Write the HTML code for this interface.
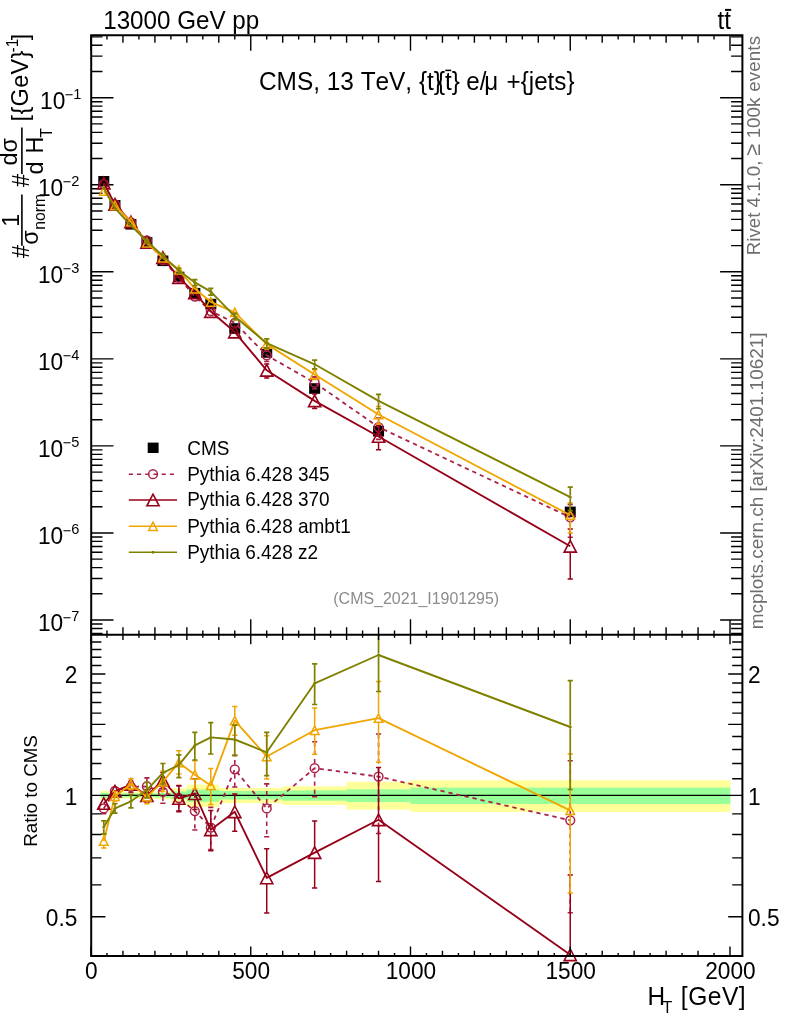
<!DOCTYPE html>
<html><head><meta charset="utf-8"><title>plot</title><style>html,body{margin:0;padding:0;background:#fff}svg{display:block;will-change:transform}text{font-kerning:none}</style></head><body>
<svg width="786" height="1024" viewBox="0 0 786 1024" font-family="'Liberation Sans', sans-serif">
<rect width="786" height="1024" fill="#fff"/>
<rect x="100.59" y="790.7" width="6.69" height="9" fill="#ffff99"/>
<rect x="106.97" y="791.6" width="16.28" height="7.2" fill="#ffff99"/>
<rect x="122.95" y="792.2" width="16.28" height="6.2" fill="#ffff99"/>
<rect x="138.93" y="792.2" width="16.27" height="6.2" fill="#ffff99"/>
<rect x="154.9" y="791.5" width="16.27" height="7.7" fill="#ffff99"/>
<rect x="170.88" y="788.4" width="16.28" height="14.3" fill="#ffff99"/>
<rect x="186.85" y="784.6" width="16.27" height="22.4" fill="#ffff99"/>
<rect x="202.82" y="784.6" width="16.28" height="22.4" fill="#ffff99"/>
<rect x="218.8" y="788" width="32.25" height="15.2" fill="#ffff99"/>
<rect x="250.75" y="788" width="32.25" height="15.2" fill="#ffff99"/>
<rect x="282.7" y="786.3" width="64.2" height="18.7" fill="#ffff99"/>
<rect x="346.6" y="781.8" width="64.2" height="27.8" fill="#ffff99"/>
<rect x="410.5" y="780.3" width="319.8" height="31.6" fill="#ffff99"/>
<rect x="100.59" y="792.7" width="6.69" height="5.2" fill="#99ff99"/>
<rect x="106.97" y="793.2" width="16.28" height="4.2" fill="#99ff99"/>
<rect x="122.95" y="793.4" width="16.28" height="3.8" fill="#99ff99"/>
<rect x="138.93" y="793.4" width="16.27" height="3.8" fill="#99ff99"/>
<rect x="154.9" y="793.2" width="16.27" height="4.3" fill="#99ff99"/>
<rect x="170.88" y="791.4" width="16.28" height="7.8" fill="#99ff99"/>
<rect x="186.85" y="789.5" width="16.27" height="12.2" fill="#99ff99"/>
<rect x="202.82" y="789.5" width="16.28" height="12.2" fill="#99ff99"/>
<rect x="218.8" y="791" width="32.25" height="8.5" fill="#99ff99"/>
<rect x="250.75" y="791" width="32.25" height="8.5" fill="#99ff99"/>
<rect x="282.7" y="790.4" width="64.2" height="10.3" fill="#99ff99"/>
<rect x="346.6" y="789.3" width="64.2" height="12.8" fill="#99ff99"/>
<rect x="410.5" y="787.6" width="319.8" height="16.3" fill="#99ff99"/>
<g id="lower">
<line x1="91.2" y1="795.4" x2="742.4" y2="795.4" stroke="#000" stroke-width="1.3"/>
<polyline points="103.78,808.4 114.96,791 130.94,786.8 146.91,786.5 162.89,791.8 178.86,798 194.84,811.1 210.81,827.6 234.78,769.4 266.73,808.4 314.65,768.2 378.55,776.6 570.25,820.3" fill="none" stroke="#ab2249" stroke-width="1.8" stroke-linejoin="round" stroke-dasharray="4.3 3.9"/>
<path d="M103.78 813.4V813.7" stroke="#ab2249" stroke-width="1.6" stroke-dasharray="4.3 3.9" fill="none"/>
<path d="M130.94 781.8V781.3" stroke="#ab2249" stroke-width="1.6" stroke-dasharray="4.3 3.9" fill="none"/>
<path d="M130.94 791.8V792.5" stroke="#ab2249" stroke-width="1.6" stroke-dasharray="4.3 3.9" fill="none"/>
<path d="M146.91 781.5V777.9" stroke="#ab2249" stroke-width="1.6" stroke-dasharray="4.3 3.9" fill="none"/>
<path d="M146.91 791.5V795.6" stroke="#ab2249" stroke-width="1.6" stroke-dasharray="4.3 3.9" fill="none"/>
<path d="M162.89 786.8V781" stroke="#ab2249" stroke-width="1.6" stroke-dasharray="4.3 3.9" fill="none"/>
<path d="M162.89 796.8V803.2" stroke="#ab2249" stroke-width="1.6" stroke-dasharray="4.3 3.9" fill="none"/>
<path d="M178.86 793V786" stroke="#ab2249" stroke-width="1.6" stroke-dasharray="4.3 3.9" fill="none"/>
<path d="M178.86 803V810.8" stroke="#ab2249" stroke-width="1.6" stroke-dasharray="4.3 3.9" fill="none"/>
<path d="M194.84 806.1V793.5" stroke="#ab2249" stroke-width="1.6" stroke-dasharray="4.3 3.9" fill="none"/>
<path d="M194.84 816.1V830" stroke="#ab2249" stroke-width="1.6" stroke-dasharray="4.3 3.9" fill="none"/>
<path d="M210.81 822.6V807.4" stroke="#ab2249" stroke-width="1.6" stroke-dasharray="4.3 3.9" fill="none"/>
<path d="M210.81 832.6V849.5" stroke="#ab2249" stroke-width="1.6" stroke-dasharray="4.3 3.9" fill="none"/>
<path d="M234.78 764.4V755.3" stroke="#ab2249" stroke-width="1.6" stroke-dasharray="4.3 3.9" fill="none"/>
<path d="M234.78 774.4V787" stroke="#ab2249" stroke-width="1.6" stroke-dasharray="4.3 3.9" fill="none"/>
<path d="M266.73 803.4V783.9" stroke="#ab2249" stroke-width="1.6" stroke-dasharray="4.3 3.9" fill="none"/>
<path d="M266.73 813.4V836.8" stroke="#ab2249" stroke-width="1.6" stroke-dasharray="4.3 3.9" fill="none"/>
<path d="M314.65 763.2V741.7" stroke="#ab2249" stroke-width="1.6" stroke-dasharray="4.3 3.9" fill="none"/>
<path d="M314.65 773.2V796.8" stroke="#ab2249" stroke-width="1.6" stroke-dasharray="4.3 3.9" fill="none"/>
<path d="M378.55 771.6V734" stroke="#ab2249" stroke-width="1.6" stroke-dasharray="4.3 3.9" fill="none"/>
<path d="M378.55 781.6V833.5" stroke="#ab2249" stroke-width="1.6" stroke-dasharray="4.3 3.9" fill="none"/>
<path d="M570.25 815.3V760.7" stroke="#ab2249" stroke-width="1.6" stroke-dasharray="4.3 3.9" fill="none"/>
<path d="M570.25 825.3V912.8" stroke="#ab2249" stroke-width="1.6" stroke-dasharray="4.3 3.9" fill="none"/>
<path d="M101.18 813.7H106.38M128.34 781.3H133.54M128.34 792.5H133.54M144.31 777.9H149.51M144.31 795.6H149.51M160.29 781H165.49M160.29 803.2H165.49M176.26 786H181.46M176.26 810.8H181.46M192.24 793.5H197.44M192.24 830H197.44M208.21 807.4H213.41M208.21 849.5H213.41M232.18 755.3H237.38M232.18 787H237.38M264.12 783.9H269.33M264.12 836.8H269.33M312.05 741.7H317.25M312.05 796.8H317.25M375.95 734H381.15M375.95 833.5H381.15M567.65 760.7H572.85M567.65 912.8H572.85" stroke="#ab2249" stroke-width="1.6" fill="none"/>
<circle cx="103.78" cy="808.4" r="4.4" fill="none" stroke="#ab2249" stroke-width="1.5"/>
<circle cx="114.96" cy="791" r="4.4" fill="none" stroke="#ab2249" stroke-width="1.5"/>
<circle cx="130.94" cy="786.8" r="4.4" fill="none" stroke="#ab2249" stroke-width="1.5"/>
<circle cx="146.91" cy="786.5" r="4.4" fill="none" stroke="#ab2249" stroke-width="1.5"/>
<circle cx="162.89" cy="791.8" r="4.4" fill="none" stroke="#ab2249" stroke-width="1.5"/>
<circle cx="178.86" cy="798" r="4.4" fill="none" stroke="#ab2249" stroke-width="1.5"/>
<circle cx="194.84" cy="811.1" r="4.4" fill="none" stroke="#ab2249" stroke-width="1.5"/>
<circle cx="210.81" cy="827.6" r="4.4" fill="none" stroke="#ab2249" stroke-width="1.5"/>
<circle cx="234.78" cy="769.4" r="4.4" fill="none" stroke="#ab2249" stroke-width="1.5"/>
<circle cx="266.73" cy="808.4" r="4.4" fill="none" stroke="#ab2249" stroke-width="1.5"/>
<circle cx="314.65" cy="768.2" r="4.4" fill="none" stroke="#ab2249" stroke-width="1.5"/>
<circle cx="378.55" cy="776.6" r="4.4" fill="none" stroke="#ab2249" stroke-width="1.5"/>
<circle cx="570.25" cy="820.3" r="4.4" fill="none" stroke="#ab2249" stroke-width="1.5"/>
<polyline points="103.78,803.5 114.96,791.2 130.94,784.5 146.91,795.6 162.89,780.5 178.86,798.4 194.84,793.7 210.81,829.8 234.78,811.8 266.73,877.9 314.65,852.6 378.55,819.8 570.25,954.8" fill="none" stroke="#960018" stroke-width="1.85" stroke-linejoin="round"/>
<path d="M146.91 789.6V789.5M146.91 801.6V802M144.31 789.5H149.51M144.31 802H149.51M162.89 774.5V772.5M162.89 786.5V789M160.29 772.5H165.49M160.29 789H165.49M178.86 792.4V785.4M178.86 804.4V811.7M176.26 785.4H181.46M176.26 811.7H181.46M194.84 787.7V778.7M194.84 799.7V809.5M192.24 778.7H197.44M192.24 809.5H197.44M210.81 823.8V810.5M210.81 835.8V850.8M208.21 810.5H213.41M208.21 850.8H213.41M234.78 805.8V794M234.78 817.8V831.3M232.18 794H237.38M232.18 831.3H237.38M266.73 871.9V848.7M266.73 883.9V913M264.12 848.7H269.33M264.12 913H269.33M314.65 846.6V821M314.65 858.6V888M312.05 821H317.25M312.05 888H317.25M378.55 813.8V767.5M378.55 825.8V881.5M375.95 767.5H381.15M375.95 881.5H381.15M570.25 948.8V875M567.65 875H572.85" stroke="#960018" stroke-width="1.5" fill="none"/>
<path d="M97.68 809.3L109.88 809.3L103.78 797.7Z" fill="none" stroke="#960018" stroke-width="1.6" stroke-linejoin="miter"/>
<path d="M108.86 797L121.06 797L114.96 785.4Z" fill="none" stroke="#960018" stroke-width="1.6" stroke-linejoin="miter"/>
<path d="M124.84 790.3L137.04 790.3L130.94 778.7Z" fill="none" stroke="#960018" stroke-width="1.6" stroke-linejoin="miter"/>
<path d="M140.81 801.4L153.01 801.4L146.91 789.8Z" fill="none" stroke="#960018" stroke-width="1.6" stroke-linejoin="miter"/>
<path d="M156.79 786.3L168.99 786.3L162.89 774.7Z" fill="none" stroke="#960018" stroke-width="1.6" stroke-linejoin="miter"/>
<path d="M172.76 804.2L184.96 804.2L178.86 792.6Z" fill="none" stroke="#960018" stroke-width="1.6" stroke-linejoin="miter"/>
<path d="M188.74 799.5L200.94 799.5L194.84 787.9Z" fill="none" stroke="#960018" stroke-width="1.6" stroke-linejoin="miter"/>
<path d="M204.71 835.6L216.91 835.6L210.81 824Z" fill="none" stroke="#960018" stroke-width="1.6" stroke-linejoin="miter"/>
<path d="M228.68 817.6L240.88 817.6L234.78 806Z" fill="none" stroke="#960018" stroke-width="1.6" stroke-linejoin="miter"/>
<path d="M260.62 883.7L272.83 883.7L266.73 872.1Z" fill="none" stroke="#960018" stroke-width="1.6" stroke-linejoin="miter"/>
<path d="M308.55 858.4L320.75 858.4L314.65 846.8Z" fill="none" stroke="#960018" stroke-width="1.6" stroke-linejoin="miter"/>
<path d="M372.45 825.6L384.65 825.6L378.55 814Z" fill="none" stroke="#960018" stroke-width="1.6" stroke-linejoin="miter"/>
<path d="M564.15 960.6L576.35 960.6L570.25 949Z" fill="none" stroke="#960018" stroke-width="1.6" stroke-linejoin="miter"/>
<polyline points="103.78,841 114.96,796.2 130.94,784.2 146.91,796.9 162.89,781.7 178.86,762.6 194.84,774.7 210.81,785.4 234.78,720.6 266.73,756.5 314.65,730.2 378.55,718.1 570.25,810.4" fill="none" stroke="#f0a500" stroke-width="1.85" stroke-linejoin="round"/>
<path d="M103.78 836.4V834.2M103.78 845.6V848M101.18 834.2H106.38M101.18 848H106.38M114.96 791.6V791.5M114.96 800.8V801M112.36 791.5H117.56M112.36 801H117.56M130.94 779.6V778.8M130.94 788.8V789.8M128.34 778.8H133.54M128.34 789.8H133.54M146.91 792.3V790.4M146.91 801.5V803.7M144.31 790.4H149.51M144.31 803.7H149.51M162.89 777.1V771.3M162.89 786.3V791.3M160.29 771.3H165.49M160.29 791.3H165.49M178.86 758V750.7M178.86 767.2V773.9M176.26 750.7H181.46M176.26 773.9H181.46M194.84 770.1V760.8M194.84 779.3V789M192.24 760.8H197.44M192.24 789H197.44M210.81 780.8V768.6M210.81 790V804.5M208.21 768.6H213.41M208.21 804.5H213.41M234.78 716V706.6M234.78 725.2V735.2M232.18 706.6H237.38M232.18 735.2H237.38M266.73 751.9V735.8M266.73 761.1V779M264.12 735.8H269.33M264.12 779H269.33M314.65 725.6V708.1M314.65 734.8V754.2M312.05 708.1H317.25M312.05 754.2H317.25M378.55 713.5V681.4M378.55 722.7V762.3M375.95 681.4H381.15M375.95 762.3H381.15M570.25 805.8V754.1M570.25 815V893M567.65 754.1H572.85M567.65 893H572.85" stroke="#f0a500" stroke-width="1.5" fill="none"/>
<path d="M99.48 845.2L108.08 845.2L103.78 836.8Z" fill="none" stroke="#f0a500" stroke-width="1.5" stroke-linejoin="miter"/>
<path d="M110.66 800.4L119.26 800.4L114.96 792Z" fill="none" stroke="#f0a500" stroke-width="1.5" stroke-linejoin="miter"/>
<path d="M126.64 788.4L135.24 788.4L130.94 780Z" fill="none" stroke="#f0a500" stroke-width="1.5" stroke-linejoin="miter"/>
<path d="M142.61 801.1L151.21 801.1L146.91 792.7Z" fill="none" stroke="#f0a500" stroke-width="1.5" stroke-linejoin="miter"/>
<path d="M158.59 785.9L167.19 785.9L162.89 777.5Z" fill="none" stroke="#f0a500" stroke-width="1.5" stroke-linejoin="miter"/>
<path d="M174.56 766.8L183.16 766.8L178.86 758.4Z" fill="none" stroke="#f0a500" stroke-width="1.5" stroke-linejoin="miter"/>
<path d="M190.54 778.9L199.14 778.9L194.84 770.5Z" fill="none" stroke="#f0a500" stroke-width="1.5" stroke-linejoin="miter"/>
<path d="M206.51 789.6L215.11 789.6L210.81 781.2Z" fill="none" stroke="#f0a500" stroke-width="1.5" stroke-linejoin="miter"/>
<path d="M230.47 724.8L239.08 724.8L234.78 716.4Z" fill="none" stroke="#f0a500" stroke-width="1.5" stroke-linejoin="miter"/>
<path d="M262.43 760.7L271.03 760.7L266.73 752.3Z" fill="none" stroke="#f0a500" stroke-width="1.5" stroke-linejoin="miter"/>
<path d="M310.35 734.4L318.95 734.4L314.65 726Z" fill="none" stroke="#f0a500" stroke-width="1.5" stroke-linejoin="miter"/>
<path d="M374.25 722.3L382.85 722.3L378.55 713.9Z" fill="none" stroke="#f0a500" stroke-width="1.5" stroke-linejoin="miter"/>
<path d="M565.95 814.6L574.55 814.6L570.25 806.2Z" fill="none" stroke="#f0a500" stroke-width="1.5" stroke-linejoin="miter"/>
<polyline points="103.78,827 114.96,808.4 130.94,801.3 146.91,790 162.89,772.8 178.86,765 194.84,745.4 210.81,737.4 234.78,739.5 266.73,752.3 314.65,683.3 378.55,655 570.25,727" fill="none" stroke="#808000" stroke-width="1.9" stroke-linejoin="round"/>
<path d="M103.78 825.5V820.8M103.78 828.5V833.8M101.18 820.8H106.38M101.18 833.8H106.38M114.96 806.9V803.6M114.96 809.9V813.2M112.36 803.6H117.56M112.36 813.2H117.56M130.94 799.8V794.6M130.94 802.8V807.9M128.34 794.6H133.54M128.34 807.9H133.54M146.91 788.5V782.4M146.91 791.5V797.8M144.31 782.4H149.51M144.31 797.8H149.51M162.89 771.3V763.5M162.89 774.3V784M160.29 763.5H165.49M160.29 784H165.49M178.86 763.5V754.8M178.86 766.5V777.7M176.26 754.8H181.46M176.26 777.7H181.46M194.84 743.9V732.3M194.84 746.9V760M192.24 732.3H197.44M192.24 760H197.44M210.81 735.9V722.6M210.81 738.9V754M208.21 722.6H213.41M208.21 754H213.41M234.78 738V725.2M234.78 741V755.7M232.18 725.2H237.38M232.18 755.7H237.38M266.73 750.8V732.4M266.73 753.8V775.7M264.12 732.4H269.33M264.12 775.7H269.33M314.65 681.8V663.8M314.65 684.8V704.5M312.05 663.8H317.25M312.05 704.5H317.25M378.55 653.5V634.8M378.55 656.5V691.5M375.95 691.5H381.15M570.25 725.5V680.7M570.25 728.5V789.5M567.65 680.7H572.85M567.65 789.5H572.85" stroke="#808000" stroke-width="1.7" fill="none"/>
<circle cx="103.78" cy="827" r="1.5" fill="#808000"/>
<circle cx="114.96" cy="808.4" r="1.5" fill="#808000"/>
<circle cx="130.94" cy="801.3" r="1.5" fill="#808000"/>
<circle cx="146.91" cy="790" r="1.5" fill="#808000"/>
<circle cx="162.89" cy="772.8" r="1.5" fill="#808000"/>
<circle cx="178.86" cy="765" r="1.5" fill="#808000"/>
<circle cx="194.84" cy="745.4" r="1.5" fill="#808000"/>
<circle cx="210.81" cy="737.4" r="1.5" fill="#808000"/>
<circle cx="234.78" cy="739.5" r="1.5" fill="#808000"/>
<circle cx="266.73" cy="752.3" r="1.5" fill="#808000"/>
<circle cx="314.65" cy="683.3" r="1.5" fill="#808000"/>
<circle cx="378.55" cy="655" r="1.5" fill="#808000"/>
<circle cx="570.25" cy="727" r="1.5" fill="#808000"/>
</g>
<path d="M91 35.2L91 50.8M91 634.8L91 619.2M106.97 35.2L106.97 39.5M106.97 634.8L106.97 630.5M122.95 35.2L122.95 42.8M122.95 634.8L122.95 627.2M138.93 35.2L138.93 39.5M138.93 634.8L138.93 630.5M154.9 35.2L154.9 42.8M154.9 634.8L154.9 627.2M170.88 35.2L170.88 39.5M170.88 634.8L170.88 630.5M186.85 35.2L186.85 42.8M186.85 634.8L186.85 627.2M202.82 35.2L202.82 39.5M202.82 634.8L202.82 630.5M218.8 35.2L218.8 42.8M218.8 634.8L218.8 627.2M234.78 35.2L234.78 39.5M234.78 634.8L234.78 630.5M250.75 35.2L250.75 50.8M250.75 634.8L250.75 619.2M266.73 35.2L266.73 39.5M266.73 634.8L266.73 630.5M282.7 35.2L282.7 42.8M282.7 634.8L282.7 627.2M298.68 35.2L298.68 39.5M298.68 634.8L298.68 630.5M314.65 35.2L314.65 42.8M314.65 634.8L314.65 627.2M330.62 35.2L330.62 39.5M330.62 634.8L330.62 630.5M346.6 35.2L346.6 42.8M346.6 634.8L346.6 627.2M362.57 35.2L362.57 39.5M362.57 634.8L362.57 630.5M378.55 35.2L378.55 42.8M378.55 634.8L378.55 627.2M394.53 35.2L394.53 39.5M394.53 634.8L394.53 630.5M410.5 35.2L410.5 50.8M410.5 634.8L410.5 619.2M426.48 35.2L426.48 39.5M426.48 634.8L426.48 630.5M442.45 35.2L442.45 42.8M442.45 634.8L442.45 627.2M458.43 35.2L458.43 39.5M458.43 634.8L458.43 630.5M474.4 35.2L474.4 42.8M474.4 634.8L474.4 627.2M490.38 35.2L490.38 39.5M490.38 634.8L490.38 630.5M506.35 35.2L506.35 42.8M506.35 634.8L506.35 627.2M522.33 35.2L522.33 39.5M522.33 634.8L522.33 630.5M538.3 35.2L538.3 42.8M538.3 634.8L538.3 627.2M554.28 35.2L554.28 39.5M554.28 634.8L554.28 630.5M570.25 35.2L570.25 50.8M570.25 634.8L570.25 619.2M586.23 35.2L586.23 39.5M586.23 634.8L586.23 630.5M602.2 35.2L602.2 42.8M602.2 634.8L602.2 627.2M618.17 35.2L618.17 39.5M618.17 634.8L618.17 630.5M634.15 35.2L634.15 42.8M634.15 634.8L634.15 627.2M650.12 35.2L650.12 39.5M650.12 634.8L650.12 630.5M666.1 35.2L666.1 42.8M666.1 634.8L666.1 627.2M682.08 35.2L682.08 39.5M682.08 634.8L682.08 630.5M698.05 35.2L698.05 42.8M698.05 634.8L698.05 627.2M714.02 35.2L714.02 39.5M714.02 634.8L714.02 630.5M730 35.2L730 50.8M730 634.8L730 619.2M91.2 633.48L102.5 633.48M742.4 633.48L731.1 633.48M91.2 628.44L102.5 628.44M742.4 628.44L731.1 628.44M91.2 623.98L102.5 623.98M742.4 623.98L731.1 623.98M91.2 620L113.5 620M742.4 620L720.1 620M91.2 593.8L102.5 593.8M742.4 593.8L731.1 593.8M91.2 578.47L102.5 578.47M742.4 578.47L731.1 578.47M91.2 567.59L102.5 567.59M742.4 567.59L731.1 567.59M91.2 559.15L102.5 559.15M742.4 559.15L731.1 559.15M91.2 552.26L102.5 552.26M742.4 552.26L731.1 552.26M91.2 546.43L102.5 546.43M742.4 546.43L731.1 546.43M91.2 541.39L102.5 541.39M742.4 541.39L731.1 541.39M91.2 536.93L102.5 536.93M742.4 536.93L731.1 536.93M91.2 532.95L113.5 532.95M742.4 532.95L720.1 532.95M91.2 506.75L102.5 506.75M742.4 506.75L731.1 506.75M91.2 491.42L102.5 491.42M742.4 491.42L731.1 491.42M91.2 480.54L102.5 480.54M742.4 480.54L731.1 480.54M91.2 472.1L102.5 472.1M742.4 472.1L731.1 472.1M91.2 465.21L102.5 465.21M742.4 465.21L731.1 465.21M91.2 459.38L102.5 459.38M742.4 459.38L731.1 459.38M91.2 454.34L102.5 454.34M742.4 454.34L731.1 454.34M91.2 449.88L102.5 449.88M742.4 449.88L731.1 449.88M91.2 445.9L113.5 445.9M742.4 445.9L720.1 445.9M91.2 419.7L102.5 419.7M742.4 419.7L731.1 419.7M91.2 404.37L102.5 404.37M742.4 404.37L731.1 404.37M91.2 393.49L102.5 393.49M742.4 393.49L731.1 393.49M91.2 385.05L102.5 385.05M742.4 385.05L731.1 385.05M91.2 378.16L102.5 378.16M742.4 378.16L731.1 378.16M91.2 372.33L102.5 372.33M742.4 372.33L731.1 372.33M91.2 367.29L102.5 367.29M742.4 367.29L731.1 367.29M91.2 362.83L102.5 362.83M742.4 362.83L731.1 362.83M91.2 358.85L113.5 358.85M742.4 358.85L720.1 358.85M91.2 332.65L102.5 332.65M742.4 332.65L731.1 332.65M91.2 317.32L102.5 317.32M742.4 317.32L731.1 317.32M91.2 306.44L102.5 306.44M742.4 306.44L731.1 306.44M91.2 298L102.5 298M742.4 298L731.1 298M91.2 291.11L102.5 291.11M742.4 291.11L731.1 291.11M91.2 285.28L102.5 285.28M742.4 285.28L731.1 285.28M91.2 280.24L102.5 280.24M742.4 280.24L731.1 280.24M91.2 275.78L102.5 275.78M742.4 275.78L731.1 275.78M91.2 271.8L113.5 271.8M742.4 271.8L720.1 271.8M91.2 245.6L102.5 245.6M742.4 245.6L731.1 245.6M91.2 230.27L102.5 230.27M742.4 230.27L731.1 230.27M91.2 219.39L102.5 219.39M742.4 219.39L731.1 219.39M91.2 210.95L102.5 210.95M742.4 210.95L731.1 210.95M91.2 204.06L102.5 204.06M742.4 204.06L731.1 204.06M91.2 198.23L102.5 198.23M742.4 198.23L731.1 198.23M91.2 193.19L102.5 193.19M742.4 193.19L731.1 193.19M91.2 188.73L102.5 188.73M742.4 188.73L731.1 188.73M91.2 184.75L113.5 184.75M742.4 184.75L720.1 184.75M91.2 158.55L102.5 158.55M742.4 158.55L731.1 158.55M91.2 143.22L102.5 143.22M742.4 143.22L731.1 143.22M91.2 132.34L102.5 132.34M742.4 132.34L731.1 132.34M91.2 123.9L102.5 123.9M742.4 123.9L731.1 123.9M91.2 117.01L102.5 117.01M742.4 117.01L731.1 117.01M91.2 111.18L102.5 111.18M742.4 111.18L731.1 111.18M91.2 106.14L102.5 106.14M742.4 106.14L731.1 106.14M91.2 101.68L102.5 101.68M742.4 101.68L731.1 101.68M91.2 97.7L113.5 97.7M742.4 97.7L720.1 97.7M91.2 71.5L102.5 71.5M742.4 71.5L731.1 71.5M91.2 56.17L102.5 56.17M742.4 56.17L731.1 56.17M91.2 45.29L102.5 45.29M742.4 45.29L731.1 45.29M91.2 36.85L102.5 36.85M742.4 36.85L731.1 36.85" stroke="#000" stroke-width="1.4" fill="none"/>
<g id="upper">
<rect x="98.28" y="176" width="11" height="10.6" fill="#000"/>
<rect x="109.46" y="200" width="11" height="10.6" fill="#000"/>
<rect x="125.44" y="219" width="11" height="10.6" fill="#000"/>
<rect x="141.41" y="237.1" width="11" height="10.6" fill="#000"/>
<rect x="157.39" y="255.5" width="11" height="10.6" fill="#000"/>
<rect x="173.36" y="271.7" width="11" height="10.6" fill="#000"/>
<rect x="189.34" y="287.9" width="11" height="10.6" fill="#000"/>
<rect x="205.31" y="298.8" width="11" height="10.6" fill="#000"/>
<rect x="229.28" y="323.2" width="11" height="10.6" fill="#000"/>
<rect x="261.23" y="347.2" width="11" height="10.6" fill="#000"/>
<rect x="309.15" y="383.2" width="11" height="10.6" fill="#000"/>
<rect x="373.05" y="425.9" width="11" height="10.6" fill="#000"/>
<rect x="564.75" y="506.6" width="11" height="10.6" fill="#000"/>
<polyline points="103.78,184.11 114.96,204.35 130.94,222.44 146.91,240.48 162.89,260.02 178.86,277.56 194.84,296.59 210.81,311.05 234.78,322.89 266.73,355.31 314.65,382.63 378.55,427.14 570.25,517.27" fill="none" stroke="#ab2249" stroke-width="1.8" stroke-linejoin="round" stroke-dasharray="4.3 3.9"/>
<path d="M266.73 350.31V350.02" stroke="#ab2249" stroke-width="1.6" stroke-dasharray="4.3 3.9" fill="none"/>
<path d="M266.73 360.31V361.44" stroke="#ab2249" stroke-width="1.6" stroke-dasharray="4.3 3.9" fill="none"/>
<path d="M314.65 377.63V376.91" stroke="#ab2249" stroke-width="1.6" stroke-dasharray="4.3 3.9" fill="none"/>
<path d="M314.65 387.63V388.8" stroke="#ab2249" stroke-width="1.6" stroke-dasharray="4.3 3.9" fill="none"/>
<path d="M378.55 422.14V417.95" stroke="#ab2249" stroke-width="1.6" stroke-dasharray="4.3 3.9" fill="none"/>
<path d="M378.55 432.14V439.42" stroke="#ab2249" stroke-width="1.6" stroke-dasharray="4.3 3.9" fill="none"/>
<path d="M570.25 512.27V504.41" stroke="#ab2249" stroke-width="1.6" stroke-dasharray="4.3 3.9" fill="none"/>
<path d="M570.25 522.27V537.24" stroke="#ab2249" stroke-width="1.6" stroke-dasharray="4.3 3.9" fill="none"/>
<path d="M264.12 350.02H269.33M264.12 361.44H269.33M312.05 376.91H317.25M312.05 388.8H317.25M375.95 417.95H381.15M375.95 439.42H381.15M567.65 504.41H572.85M567.65 537.24H572.85" stroke="#ab2249" stroke-width="1.6" fill="none"/>
<circle cx="103.78" cy="184.11" r="4.4" fill="none" stroke="#ab2249" stroke-width="1.5"/>
<circle cx="114.96" cy="204.35" r="4.4" fill="none" stroke="#ab2249" stroke-width="1.5"/>
<circle cx="130.94" cy="222.44" r="4.4" fill="none" stroke="#ab2249" stroke-width="1.5"/>
<circle cx="146.91" cy="240.48" r="4.4" fill="none" stroke="#ab2249" stroke-width="1.5"/>
<circle cx="162.89" cy="260.02" r="4.4" fill="none" stroke="#ab2249" stroke-width="1.5"/>
<circle cx="178.86" cy="277.56" r="4.4" fill="none" stroke="#ab2249" stroke-width="1.5"/>
<circle cx="194.84" cy="296.59" r="4.4" fill="none" stroke="#ab2249" stroke-width="1.5"/>
<circle cx="210.81" cy="311.05" r="4.4" fill="none" stroke="#ab2249" stroke-width="1.5"/>
<circle cx="234.78" cy="322.89" r="4.4" fill="none" stroke="#ab2249" stroke-width="1.5"/>
<circle cx="266.73" cy="355.31" r="4.4" fill="none" stroke="#ab2249" stroke-width="1.5"/>
<circle cx="314.65" cy="382.63" r="4.4" fill="none" stroke="#ab2249" stroke-width="1.5"/>
<circle cx="378.55" cy="427.14" r="4.4" fill="none" stroke="#ab2249" stroke-width="1.5"/>
<circle cx="570.25" cy="517.27" r="4.4" fill="none" stroke="#ab2249" stroke-width="1.5"/>
<polyline points="103.78,183.05 114.96,204.39 130.94,221.95 146.91,242.44 162.89,257.58 178.86,277.65 194.84,292.83 210.81,311.53 234.78,332.04 266.73,370.31 314.65,400.85 378.55,436.47 570.25,546.31" fill="none" stroke="#960018" stroke-width="1.85" stroke-linejoin="round"/>
<path d="M266.73 364.31V364.01M266.73 376.31V377.88M264.12 364.01H269.33M264.12 377.88H269.33M314.65 394.85V394.03M314.65 406.85V408.49M312.05 394.03H317.25M312.05 408.49H317.25M378.55 430.47V425.18M378.55 442.47V449.79M375.95 425.18H381.15M375.95 449.79H381.15M570.25 540.31V529.08M570.25 552.31V578.94M567.65 529.08H572.85M567.65 578.94H572.85" stroke="#960018" stroke-width="1.5" fill="none"/>
<path d="M97.68 188.85L109.88 188.85L103.78 177.25Z" fill="none" stroke="#960018" stroke-width="1.6" stroke-linejoin="miter"/>
<path d="M108.86 210.19L121.06 210.19L114.96 198.59Z" fill="none" stroke="#960018" stroke-width="1.6" stroke-linejoin="miter"/>
<path d="M124.84 227.75L137.04 227.75L130.94 216.15Z" fill="none" stroke="#960018" stroke-width="1.6" stroke-linejoin="miter"/>
<path d="M140.81 248.24L153.01 248.24L146.91 236.64Z" fill="none" stroke="#960018" stroke-width="1.6" stroke-linejoin="miter"/>
<path d="M156.79 263.38L168.99 263.38L162.89 251.78Z" fill="none" stroke="#960018" stroke-width="1.6" stroke-linejoin="miter"/>
<path d="M172.76 283.45L184.96 283.45L178.86 271.85Z" fill="none" stroke="#960018" stroke-width="1.6" stroke-linejoin="miter"/>
<path d="M188.74 298.63L200.94 298.63L194.84 287.03Z" fill="none" stroke="#960018" stroke-width="1.6" stroke-linejoin="miter"/>
<path d="M204.71 317.33L216.91 317.33L210.81 305.73Z" fill="none" stroke="#960018" stroke-width="1.6" stroke-linejoin="miter"/>
<path d="M228.68 337.84L240.88 337.84L234.78 326.24Z" fill="none" stroke="#960018" stroke-width="1.6" stroke-linejoin="miter"/>
<path d="M260.62 376.11L272.83 376.11L266.73 364.51Z" fill="none" stroke="#960018" stroke-width="1.6" stroke-linejoin="miter"/>
<path d="M308.55 406.65L320.75 406.65L314.65 395.05Z" fill="none" stroke="#960018" stroke-width="1.6" stroke-linejoin="miter"/>
<path d="M372.45 442.27L384.65 442.27L378.55 430.67Z" fill="none" stroke="#960018" stroke-width="1.6" stroke-linejoin="miter"/>
<path d="M564.15 552.11L576.35 552.11L570.25 540.51Z" fill="none" stroke="#960018" stroke-width="1.6" stroke-linejoin="miter"/>
<polyline points="103.78,191.14 114.96,205.47 130.94,221.88 146.91,242.72 162.89,257.84 178.86,269.92 194.84,288.73 210.81,301.94 234.78,312.35 266.73,344.1 314.65,374.43 378.55,414.51 570.25,515.14" fill="none" stroke="#f0a500" stroke-width="1.85" stroke-linejoin="round"/>
<path d="M266.73 348.7V348.96M264.12 348.96H269.33M314.65 369.83V369.66M314.65 379.03V379.61M312.05 369.66H317.25M312.05 379.61H317.25M378.55 409.91V406.59M378.55 419.11V424.06M375.95 406.59H381.15M375.95 424.06H381.15M570.25 510.54V502.99M570.25 519.74V532.97M567.65 502.99H572.85M567.65 532.97H572.85" stroke="#f0a500" stroke-width="1.5" fill="none"/>
<path d="M99.48 195.34L108.08 195.34L103.78 186.94Z" fill="none" stroke="#f0a500" stroke-width="1.5" stroke-linejoin="miter"/>
<path d="M110.66 209.67L119.26 209.67L114.96 201.27Z" fill="none" stroke="#f0a500" stroke-width="1.5" stroke-linejoin="miter"/>
<path d="M126.64 226.08L135.24 226.08L130.94 217.68Z" fill="none" stroke="#f0a500" stroke-width="1.5" stroke-linejoin="miter"/>
<path d="M142.61 246.92L151.21 246.92L146.91 238.52Z" fill="none" stroke="#f0a500" stroke-width="1.5" stroke-linejoin="miter"/>
<path d="M158.59 262.04L167.19 262.04L162.89 253.64Z" fill="none" stroke="#f0a500" stroke-width="1.5" stroke-linejoin="miter"/>
<path d="M174.56 274.12L183.16 274.12L178.86 265.72Z" fill="none" stroke="#f0a500" stroke-width="1.5" stroke-linejoin="miter"/>
<path d="M190.54 292.93L199.14 292.93L194.84 284.53Z" fill="none" stroke="#f0a500" stroke-width="1.5" stroke-linejoin="miter"/>
<path d="M206.51 306.14L215.11 306.14L210.81 297.74Z" fill="none" stroke="#f0a500" stroke-width="1.5" stroke-linejoin="miter"/>
<path d="M230.47 316.55L239.08 316.55L234.78 308.15Z" fill="none" stroke="#f0a500" stroke-width="1.5" stroke-linejoin="miter"/>
<path d="M262.43 348.3L271.03 348.3L266.73 339.9Z" fill="none" stroke="#f0a500" stroke-width="1.5" stroke-linejoin="miter"/>
<path d="M310.35 378.63L318.95 378.63L314.65 370.23Z" fill="none" stroke="#f0a500" stroke-width="1.5" stroke-linejoin="miter"/>
<path d="M374.25 418.71L382.85 418.71L378.55 410.31Z" fill="none" stroke="#f0a500" stroke-width="1.5" stroke-linejoin="miter"/>
<path d="M565.95 519.34L574.55 519.34L570.25 510.94Z" fill="none" stroke="#f0a500" stroke-width="1.5" stroke-linejoin="miter"/>
<polyline points="103.78,188.12 114.96,208.11 130.94,225.57 146.91,241.23 162.89,255.92 178.86,270.44 194.84,282.41 210.81,291.58 234.78,316.43 266.73,343.2 314.65,364.3 378.55,400.89 570.25,497.14" fill="none" stroke="#808000" stroke-width="1.9" stroke-linejoin="round"/>
<path d="M146.91 239.73V239.59M146.91 242.73V242.92M144.31 239.59H149.51M144.31 242.92H149.51M162.89 254.42V253.91M162.89 257.42V258.34M160.29 253.91H165.49M160.29 258.34H165.49M178.86 268.94V268.24M178.86 271.94V273.18M176.26 268.24H181.46M176.26 273.18H181.46M194.84 280.91V279.58M194.84 283.91V285.56M192.24 279.58H197.44M192.24 285.56H197.44M210.81 290.08V288.39M210.81 293.08V295.16M208.21 288.39H213.41M208.21 295.16H213.41M234.78 314.93V313.35M234.78 317.93V319.93M232.18 313.35H237.38M232.18 319.93H237.38M266.73 341.7V338.9M266.73 344.7V348.25M264.12 338.9H269.33M264.12 348.25H269.33M314.65 362.8V360.09M314.65 365.8V368.88M312.05 360.09H317.25M312.05 368.88H317.25M378.55 399.39V394.4M378.55 402.39V408.77M375.95 394.4H381.15M375.95 408.77H381.15M570.25 495.64V487.14M570.25 498.64V510.63M567.65 487.14H572.85M567.65 510.63H572.85" stroke="#808000" stroke-width="1.7" fill="none"/>
<circle cx="103.78" cy="188.12" r="1.5" fill="#808000"/>
<circle cx="114.96" cy="208.11" r="1.5" fill="#808000"/>
<circle cx="130.94" cy="225.57" r="1.5" fill="#808000"/>
<circle cx="146.91" cy="241.23" r="1.5" fill="#808000"/>
<circle cx="162.89" cy="255.92" r="1.5" fill="#808000"/>
<circle cx="178.86" cy="270.44" r="1.5" fill="#808000"/>
<circle cx="194.84" cy="282.41" r="1.5" fill="#808000"/>
<circle cx="210.81" cy="291.58" r="1.5" fill="#808000"/>
<circle cx="234.78" cy="316.43" r="1.5" fill="#808000"/>
<circle cx="266.73" cy="343.2" r="1.5" fill="#808000"/>
<circle cx="314.65" cy="364.3" r="1.5" fill="#808000"/>
<circle cx="378.55" cy="400.89" r="1.5" fill="#808000"/>
<circle cx="570.25" cy="497.14" r="1.5" fill="#808000"/>
</g>
<path d="M91 634.8L91 644.3M91 955.9L91 946.4M106.97 634.8L106.97 637.8M106.97 955.9L106.97 952.9M122.95 634.8L122.95 640M122.95 955.9L122.95 950.7M138.93 634.8L138.93 637.8M138.93 955.9L138.93 952.9M154.9 634.8L154.9 640M154.9 955.9L154.9 950.7M170.88 634.8L170.88 637.8M170.88 955.9L170.88 952.9M186.85 634.8L186.85 640M186.85 955.9L186.85 950.7M202.82 634.8L202.82 637.8M202.82 955.9L202.82 952.9M218.8 634.8L218.8 640M218.8 955.9L218.8 950.7M234.78 634.8L234.78 637.8M234.78 955.9L234.78 952.9M250.75 634.8L250.75 644.3M250.75 955.9L250.75 946.4M266.73 634.8L266.73 637.8M266.73 955.9L266.73 952.9M282.7 634.8L282.7 640M282.7 955.9L282.7 950.7M298.68 634.8L298.68 637.8M298.68 955.9L298.68 952.9M314.65 634.8L314.65 640M314.65 955.9L314.65 950.7M330.62 634.8L330.62 637.8M330.62 955.9L330.62 952.9M346.6 634.8L346.6 640M346.6 955.9L346.6 950.7M362.57 634.8L362.57 637.8M362.57 955.9L362.57 952.9M378.55 634.8L378.55 640M378.55 955.9L378.55 950.7M394.53 634.8L394.53 637.8M394.53 955.9L394.53 952.9M410.5 634.8L410.5 644.3M410.5 955.9L410.5 946.4M426.48 634.8L426.48 637.8M426.48 955.9L426.48 952.9M442.45 634.8L442.45 640M442.45 955.9L442.45 950.7M458.43 634.8L458.43 637.8M458.43 955.9L458.43 952.9M474.4 634.8L474.4 640M474.4 955.9L474.4 950.7M490.38 634.8L490.38 637.8M490.38 955.9L490.38 952.9M506.35 634.8L506.35 640M506.35 955.9L506.35 950.7M522.33 634.8L522.33 637.8M522.33 955.9L522.33 952.9M538.3 634.8L538.3 640M538.3 955.9L538.3 950.7M554.28 634.8L554.28 637.8M554.28 955.9L554.28 952.9M570.25 634.8L570.25 644.3M570.25 955.9L570.25 946.4M586.23 634.8L586.23 637.8M586.23 955.9L586.23 952.9M602.2 634.8L602.2 640M602.2 955.9L602.2 950.7M618.17 634.8L618.17 637.8M618.17 955.9L618.17 952.9M634.15 634.8L634.15 640M634.15 955.9L634.15 950.7M650.12 634.8L650.12 637.8M650.12 955.9L650.12 952.9M666.1 634.8L666.1 640M666.1 955.9L666.1 950.7M682.08 634.8L682.08 637.8M682.08 955.9L682.08 952.9M698.05 634.8L698.05 640M698.05 955.9L698.05 950.7M714.02 634.8L714.02 637.8M714.02 955.9L714.02 952.9M730 634.8L730 644.3M730 955.9L730 946.4M91.2 916.8L105.4 916.8M742.4 916.8L728.2 916.8M91.2 884.87L101.4 884.87M742.4 884.87L732.2 884.87M91.2 857.87L101.4 857.87M742.4 857.87L732.2 857.87M91.2 834.48L101.4 834.48M742.4 834.48L732.2 834.48M91.2 813.85L101.4 813.85M742.4 813.85L732.2 813.85M91.2 778.71L101.4 778.71M742.4 778.71L732.2 778.71M91.2 763.47L101.4 763.47M742.4 763.47L732.2 763.47M91.2 749.45L101.4 749.45M742.4 749.45L732.2 749.45M91.2 736.47L101.4 736.47M742.4 736.47L732.2 736.47M91.2 724.39L105.4 724.39M742.4 724.39L728.2 724.39M91.2 713.08L101.4 713.08M742.4 713.08L732.2 713.08M91.2 702.46L101.4 702.46M742.4 702.46L732.2 702.46M91.2 692.45L101.4 692.45M742.4 692.45L732.2 692.45M91.2 682.98L101.4 682.98M742.4 682.98L732.2 682.98M91.2 674L105.4 674M742.4 674L728.2 674M91.2 665.45L101.4 665.45M742.4 665.45L732.2 665.45M91.2 657.31L101.4 657.31M742.4 657.31L732.2 657.31M91.2 649.52L101.4 649.52M742.4 649.52L732.2 649.52M91.2 642.07L101.4 642.07M742.4 642.07L732.2 642.07" stroke="#000" stroke-width="1.4" fill="none"/>
<path d="M91.2 35.2H742.4V955.9H91.2ZM91.2 634.8H742.4" stroke="#000" stroke-width="2" fill="none" stroke-linejoin="miter"/>
<text transform="translate(91.4,978.6) scale(1,1.04)" font-size="22.7" text-anchor="middle">0</text>
<text transform="translate(251.15,978.6) scale(1,1.04)" font-size="22.7" text-anchor="middle">500</text>
<text transform="translate(410.9,978.6) scale(1,1.04)" font-size="22.7" text-anchor="middle">1000</text>
<text transform="translate(570.65,978.6) scale(1,1.04)" font-size="22.7" text-anchor="middle">1500</text>
<text transform="translate(730.4,978.6) scale(1,1.04)" font-size="22.7" text-anchor="middle">2000</text>
<g transform="translate(38.0,631.2) scale(1,1.04)"><text font-size="22.7">10</text><text x="24.7" y="-8.3" font-size="14.6">−</text><text x="33.2" y="-9.6" font-size="14.6">7</text></g>
<g transform="translate(38.0,544.15) scale(1,1.04)"><text font-size="22.7">10</text><text x="24.7" y="-8.3" font-size="14.6">−</text><text x="33.2" y="-9.6" font-size="14.6">6</text></g>
<g transform="translate(38.0,457.1) scale(1,1.04)"><text font-size="22.7">10</text><text x="24.7" y="-8.3" font-size="14.6">−</text><text x="33.2" y="-9.6" font-size="14.6">5</text></g>
<g transform="translate(38.0,370.05) scale(1,1.04)"><text font-size="22.7">10</text><text x="24.7" y="-8.3" font-size="14.6">−</text><text x="33.2" y="-9.6" font-size="14.6">4</text></g>
<g transform="translate(38.0,283) scale(1,1.04)"><text font-size="22.7">10</text><text x="24.7" y="-8.3" font-size="14.6">−</text><text x="33.2" y="-9.6" font-size="14.6">3</text></g>
<g transform="translate(38.0,195.95) scale(1,1.04)"><text font-size="22.7">10</text><text x="24.7" y="-8.3" font-size="14.6">−</text><text x="33.2" y="-9.6" font-size="14.6">2</text></g>
<g transform="translate(40.1,108.9) scale(1,1.04)"><text font-size="22.7">10</text><text x="24.7" y="-8.3" font-size="14.6">−</text><text x="33.2" y="-9.6" font-size="14.6">1</text></g>
<text transform="translate(77.3,682.8) scale(1,1.04)" font-size="22.7" text-anchor="end">2</text>
<text transform="translate(748,682.8) scale(1,1.04)" font-size="22.7" text-anchor="start">2</text>
<text transform="translate(77.3,805) scale(1,1.04)" font-size="22.7" text-anchor="end">1</text>
<text transform="translate(748,805) scale(1,1.04)" font-size="22.7" text-anchor="start">1</text>
<text transform="translate(77.3,925.9) scale(1,1.04)" font-size="22.7" text-anchor="end">0.5</text>
<text transform="translate(748,925.9) scale(1,1.04)" font-size="22.7" text-anchor="start">0.5</text>
<text transform="translate(103.2,28.9) scale(1,1.04)" font-size="24.2" text-anchor="start" fill="#000">13000 GeV pp</text>
<text transform="translate(717.6,29.2) scale(1,1.04)" font-size="24.2" text-anchor="start" fill="#000">tt</text>
<path d="M725.0 9.9H731.2" stroke="#000" stroke-width="2"/>
<text transform="translate(259,89.8) scale(1,1.04)" font-size="24.4" text-anchor="start" fill="#000">CMS, 13 TeV, {t}</text>
<text transform="translate(436.9,89.8) scale(1,1.04)" font-size="24.2" text-anchor="start" fill="#000">{t}</text>
<path d="M445.3 70.4H451.3" stroke="#000" stroke-width="1.5"/>
<text transform="translate(466.3,89.8) scale(1,1.04)" font-size="24.2" text-anchor="start" fill="#000">e/</text>
<text transform="translate(484.2,89.8) scale(1,1.04)" font-size="24.2" text-anchor="start" fill="#000">μ</text>
<text transform="translate(506.6,89.8) scale(1,1.04)" font-size="24.2" text-anchor="start" fill="#000">+{jets}</text>
<text transform="translate(416.2,604.2) scale(1,1.03)" font-size="15.95" text-anchor="middle" fill="#8c8c8c">(CMS_2021_I1901295)</text>
<text transform="translate(187.2,454.6) scale(1,1.025)" font-size="19.0" text-anchor="start" fill="#000">CMS</text>
<text transform="translate(187.2,480.6) scale(1,1.025)" font-size="19.0" text-anchor="start" fill="#000">Pythia 6.428 345</text>
<text transform="translate(187.2,506.4) scale(1,1.025)" font-size="19.0" text-anchor="start" fill="#000">Pythia 6.428 370</text>
<text transform="translate(187.2,532.7) scale(1,1.025)" font-size="19.0" text-anchor="start" fill="#000">Pythia 6.428 ambt1</text>
<text transform="translate(187.2,558.6) scale(1,1.025)" font-size="19.0" text-anchor="start" fill="#000">Pythia 6.428 z2</text>
<rect x="147.7" y="442.6" width="10.9" height="10.4" fill="#000"/>
<path d="M128.8 474.2H177.0" stroke="#ab2249" stroke-width="1.5" stroke-dasharray="4.2 4" fill="none"/>
<circle cx="153.0" cy="474.2" r="4.4" fill="none" stroke="#ab2249" stroke-width="1.5"/>
<path d="M128.8 500.0H177.0" stroke="#960018" stroke-width="1.55" fill="none"/>
<path d="M128.8 526.3H177.0" stroke="#f0a500" stroke-width="1.55" fill="none"/>
<path d="M128.8 552.2H177.0" stroke="#808000" stroke-width="1.55" fill="none"/>
<path d="M146.9 505.8L159.1 505.8L153 494.2Z" fill="none" stroke="#960018" stroke-width="1.6"/>
<path d="M148.7 530.5L157.3 530.5L153 522.1Z" fill="none" stroke="#f0a500" stroke-width="1.5"/>
<circle cx="153.0" cy="552.2" r="1.5" fill="#808000"/>
<g transform="translate(760.2,255.2) rotate(-90) scale(1,1.01)" font-size="18.7" fill="#6e6e6e"><text x="0" y="0">Rivet 4.1.0,</text><text x="99.6" y="0" font-size="21.6">≥</text><text x="116.9" y="0">100k</text><text x="163.4" y="0" letter-spacing="0.15">events</text></g>
<text transform="translate(762.5,629.3) rotate(-90) scale(1,1.01)" font-size="18.95" fill="#6e6e6e">mcplots.cern.ch [arXiv:2401.10621]</text>
<text transform="translate(36.6,846.8) rotate(-90) scale(1,1.025)" font-size="18.8">Ratio to CMS</text>
<text transform="translate(647.4,1005.4) scale(1,1.04)" font-size="24.4" text-anchor="start" fill="#000">H</text>
<text transform="translate(662.6,1012.5) scale(1,1.04)" font-size="16" text-anchor="start" fill="#000">T</text>
<text transform="translate(680.8,1005.4) scale(1,1.04)" font-size="24.6" text-anchor="start" fill="#000" letter-spacing="0.5">[GeV]</text>
<g transform="translate(0,256.8) rotate(-90)" font-size="23.4">
<text transform="translate(-1.2,28.5) scale(1,1.04)" text-anchor="start">#</text>
<path d="M11 21.9H62.3M82.8 21.9H129.3" stroke="#000" stroke-width="1.6"/>
<text transform="translate(36.6,18.6) scale(1,1.04)" text-anchor="middle">1</text>
<text transform="translate(12,38.3) scale(1,1.04)" text-anchor="start">σ</text>
<text transform="translate(27,45.2) scale(1,1.04)" font-size="15.8" text-anchor="start">norm</text>
<text transform="translate(69.8,28.5) scale(1,1.04)" text-anchor="start">#</text>
<text transform="translate(105,17.2) scale(1,1.04)" text-anchor="middle">dσ</text>
<text transform="translate(82.4,43.2) scale(1,1.04)" text-anchor="start">d</text>
<text transform="translate(103.2,43.2) scale(1,1.04)" text-anchor="start">H</text>
<text transform="translate(119.2,52) scale(1,1.04)" font-size="15.4" text-anchor="start">T</text>
<text transform="translate(135.4,28) scale(1,1.04)" letter-spacing="0.35" text-anchor="start">[{GeV}</text>
<text transform="translate(204.4,17.5) scale(1,1.04)" font-size="15.4" text-anchor="start">-1</text>
<text transform="translate(216.6,28) scale(1,1.04)" text-anchor="start">]</text>
</g>
</svg>
</body></html>
